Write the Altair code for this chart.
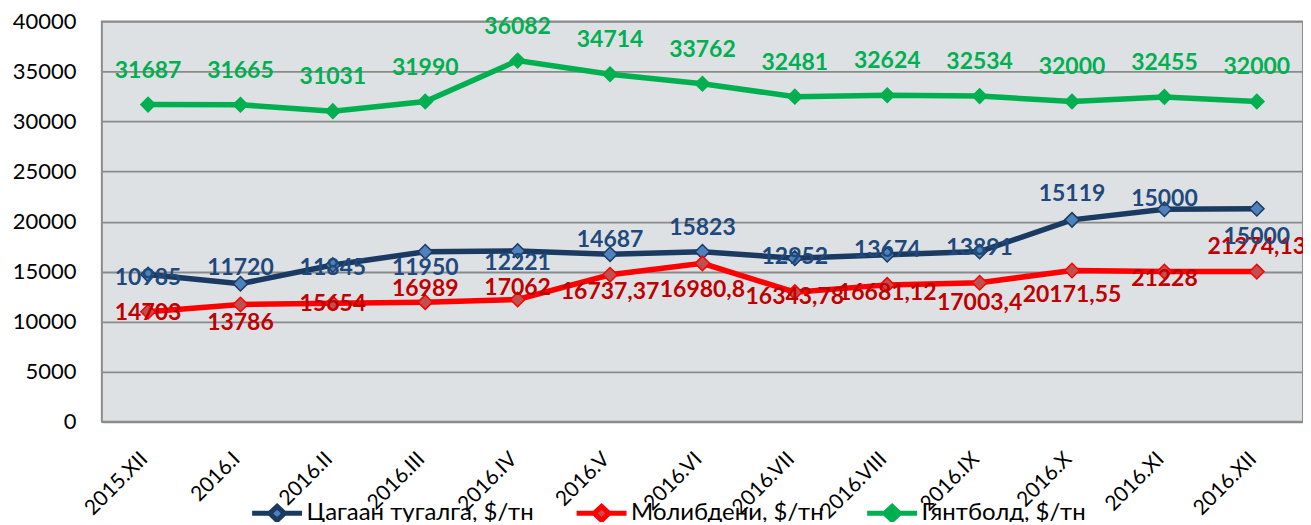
import altair as alt
import pandas as pd

months = ["2015.XII", "2016.I", "2016.II", "2016.III", "2016.IV", "2016.V", "2016.VI",
          "2016.VII", "2016.VIII", "2016.IX", "2016.X", "2016.XI", "2016.XII"]

series_names = ["Цагаан тугалга, $/тн", "Молибдени, $/тн", "Гянтболд, $/тн"]

tin_values = [14703, 13786, 15654, 16989, 17062, 16737.37, 16980.8,
              16343.78, 16681.12, 17003.4, 20171.55, 21228, 21274.13]
moly_values = [10985, 11720, 11845, 11950, 12221, 14687, 15823,
               12952, 13674, 13891, 15119, 15000, 15000]
tungsten_values = [31687, 31665, 31031, 31990, 36082, 34714, 33762,
                   32481, 32624, 32534, 32000, 32455, 32000]

# heights (value units) at which the data labels sit
tin_label_at = [10829, 9833, 11756, 13250, 13320, 12981, 13151,
                12483, 12822, 11826, 12653, 14247, 17465]
moly_label_at = [14316, 15313, 15313, 15392, 15811, 18132, 19357,
                 16468, 17136, 17365, 22785, 22286, 18461]

y_ticks = [0, 5000, 10000, 15000, 20000, 25000, 30000, 35000, 40000]

line_colors = ["#1B3A61", "#FF0000", "#00B050"]
marker_fill = ["#4F81BD", "#C0504D", "#00B050"]
marker_stroke = ["#1B3A61", "#FF0000", "#00B050"]

FONT = "Lato"
LEGEND_SYMBOL = "M-1,0L-0.3,0M0.3,0L1,0M0,-0.28L0.3,0L0,0.28L-0.3,0Z"


def fmt(v):
    return str(v).replace(".", ",")


rows = []
for name, vals in zip(series_names, [tin_values, moly_values, tungsten_values]):
    for m, v in zip(months, vals):
        rows.append({"month": m, "series": name, "value": v})
df = pd.DataFrame(rows)

tin_lab = pd.DataFrame({"month": months, "text": [fmt(v) for v in tin_values], "at": tin_label_at})
moly_lab = pd.DataFrame({"month": months, "text": [fmt(v) for v in moly_values], "at": moly_label_at})
tung_lab = pd.DataFrame({"month": months, "text": [fmt(v) for v in tungsten_values], "value": tungsten_values})

x_enc = alt.X("month:N", sort=months,
              scale=alt.Scale(type="point", padding=0.5),
              axis=alt.Axis(title=None, labelAngle=-45, labelAlign="right", labelBaseline="middle",
                            labelFontSize=21, labelFont=FONT, labelColor="#000000",
                            labelPadding=34, labelOffset=-4, ticks=False, domain=False, grid=False))
y_scale = alt.Scale(domain=[0, 40000], nice=False, zero=True)
y_axis = alt.Axis(title=None, values=y_ticks, format="d", labelFontSize=22, labelFont=FONT,
                  labelColor="#000000", labelPadding=26, ticks=False, domain=False,
                  grid=True, gridColor="#8A8A8A", gridWidth=1.8)

lines = alt.Chart(df).mark_line(strokeWidth=5.5).encode(
    x=x_enc,
    y=alt.Y("value:Q", scale=y_scale, axis=y_axis),
    color=alt.Color("series:N", sort=series_names,
                    scale=alt.Scale(domain=series_names, range=line_colors),
                    legend=alt.Legend(title=None, orient="none", direction="horizontal",
                                      legendX=148, legendY=465,
                                      symbolType=LEGEND_SYMBOL,
                                      symbolSize=2500, symbolStrokeWidth=5,
                                      labelFontSize=24, labelFont=FONT, labelColor="#000000",
                                      labelLimit=400, labelOffset=2, columnPadding=32)),
)

points = alt.Chart(df).mark_point(shape="diamond", filled=True, strokeWidth=1.5, opacity=1,
                                  size=210).encode(
    x=alt.X("month:N", sort=months),
    y=alt.Y("value:Q"),
    fill=alt.Fill("series:N", scale=alt.Scale(domain=series_names, range=marker_fill), legend=None),
    stroke=alt.Stroke("series:N", scale=alt.Scale(domain=series_names, range=marker_stroke), legend=None),
)

tin_text = alt.Chart(tin_lab).mark_text(font=FONT, fontSize=23, fontWeight="bold",
                                        color="#C00000", baseline="middle").encode(
    x=alt.X("month:N", sort=months), y=alt.Y("at:Q"), text="text:N")
moly_text = alt.Chart(moly_lab).mark_text(font=FONT, fontSize=23, fontWeight="bold",
                                          color="#1F497D", baseline="middle").encode(
    x=alt.X("month:N", sort=months), y=alt.Y("at:Q"), text="text:N")
tung_text = alt.Chart(tung_lab).mark_text(font=FONT, fontSize=23, fontWeight="bold",
                                          color="#00B050", baseline="middle", dy=-34).encode(
    x=alt.X("month:N", sort=months), y=alt.Y("value:Q"), text="text:N")

chart = alt.layer(lines, points, tin_text, moly_text, tung_text).properties(
    width=1203, height=401,
    autosize=alt.AutoSizeParams(type="none"),
    padding={"left": 94, "top": 13, "right": 0, "bottom": 100},
).configure_view(
    fill="#DDE1E4", stroke="#8C8C8C", strokeWidth=2
)

chart.save("out.html", embed_options={"renderer": "svg", "actions": False})
